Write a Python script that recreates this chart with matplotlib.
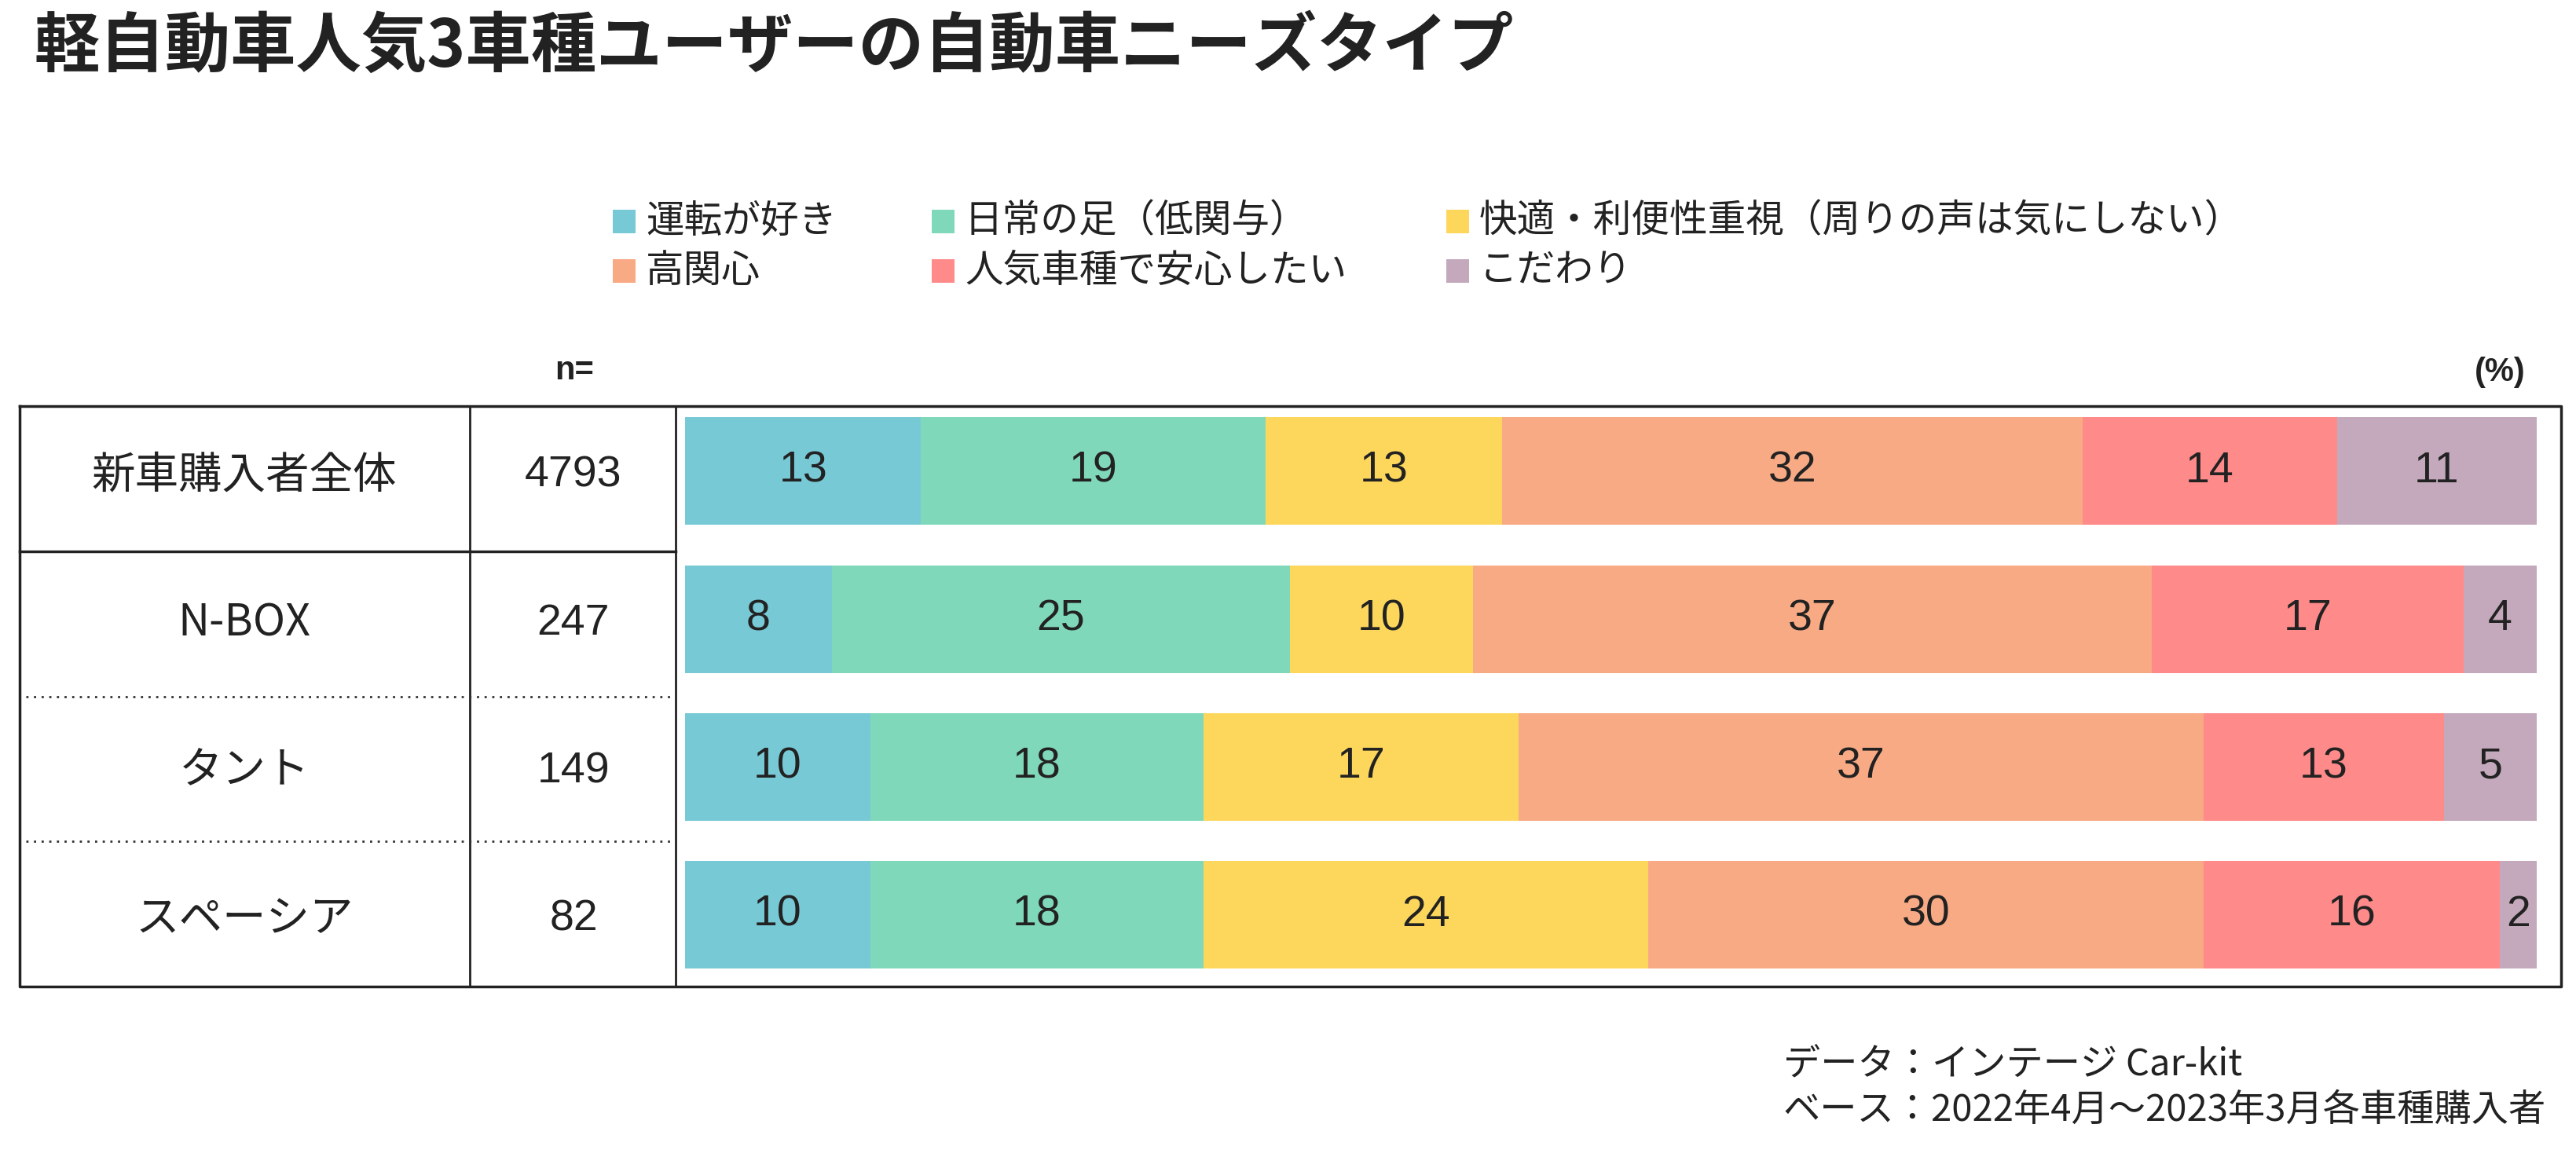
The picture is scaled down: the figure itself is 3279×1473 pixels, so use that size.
import numpy as np
import matplotlib
matplotlib.use("Agg")
import matplotlib.pyplot as plt
from matplotlib import transforms
from matplotlib.patches import Rectangle

plt.rcParams['font.family'] = ['Noto Sans CJK JP', 'DejaVu Sans']

# data
title = "軽自動車人気3車種ユーザーの自動車ニーズタイプ"
categories = ["新車購入者全体", "N-BOX", "タント", "スペーシア"]
n_values = [4793, 247, 149, 82]
drive = [13, 8, 10, 10]
daily = [19, 25, 18, 18]
comfort = [13, 10, 17, 24]
interest = [32, 37, 37, 30]
popular = [14, 17, 13, 16]
particular = [11, 4, 5, 2]
legend_names = ["運転が好き", "日常の足（低関与）", "快適・利便性重視（周りの声は気にしない）",
                "高関心", "人気車種で安心したい", "こだわり"]
colors = ["#78C9D6", "#80D8BA", "#FDD75C", "#F8AA84", "#FF8A8A", "#C4A9BC"]
source_lines = ["データ：インテージ Car-kit", "ベース：2022年4月～2023年3月各車種購入者"]

W, H = 3280, 1473
fig = plt.figure(figsize=(W / 100, H / 100), dpi=100)

# full-figure axes in pixel coords for the table / texts
ax0 = fig.add_axes([0, 0, 1, 1])
ax0.set_xlim(0, W)
ax0.set_ylim(H, 0)
ax0.axis('off')

# bar axes
bx0, bx1, by0, by1 = 872, 3229, 517, 1256
ax = fig.add_axes([bx0 / W, 1 - by1 / H, (bx1 - bx0) / W, (by1 - by0) / H])
ax.set_xlim(0, 1)
ax.set_ylim(3.486, -0.441)
ax.axis('off')

data = np.array([drive, daily, comfort, interest, popular, particular], dtype=float)
share = data / data.sum(axis=0)
y = np.arange(len(categories))
left = np.zeros(len(categories))
for k in range(data.shape[0]):
    ax.barh(y, share[k], left=left, height=0.728, color=colors[k], linewidth=0)
    for i in range(len(categories)):
        ax.text(left[i] + share[k][i] / 2, y[i], str(int(data[k][i])),
                ha='center', va='center', fontsize=40, color='#222222',
                family=['Liberation Sans', 'DejaVu Sans'])
    left += share[k]

# title
ax0.text(44, 60, title, fontsize=60, fontweight='bold', color='#222222',
         ha='left', va='center')

# legend (drawn by hand, 3 columns x 2 rows)
leg_x = [780, 1186, 1841]
leg_y = [282, 345]
for j, name in enumerate(legend_names):
    r, c = divmod(j, 3)
    ax0.add_patch(Rectangle((leg_x[c], leg_y[r] - 15), 29, 30,
                            color=colors[j], linewidth=0))
    ax0.text(leg_x[c] + 42, leg_y[r], name, fontsize=35, color='#222222',
             ha='left', va='center')

# header texts
ax0.text(731, 472, "n=", fontsize=30, fontweight='bold', ha='center', va='center',
         family=['Liberation Sans', 'DejaVu Sans'], color='#222222')
ax0.text(3182, 474, "(%)", fontsize=30, fontweight='bold', ha='center', va='center',
         family=['Liberation Sans', 'DejaVu Sans'], color='#222222')

# table frame
x_left, x_c1, x_c2, x_right = 25, 598, 860, 3260
y_top, y_bot = 517, 1256
ax0.plot([x_left, x_right, x_right, x_left, x_left],
         [y_top, y_top, y_bot, y_bot, y_top], color='#222222', lw=2.5)
ax0.plot([x_c1, x_c1], [y_top, y_bot], color='#222222', lw=2)
ax0.plot([x_c2, x_c2], [y_top, y_bot], color='#222222', lw=2)
ax0.plot([x_left, x_c2], [702, 702], color='#222222', lw=2.5)
for yy in [887, 1071]:
    ax0.plot([x_left + 8, x_c2 - 4], [yy, yy], color='#333333', lw=2,
             linestyle=(0, (1, 2.5)))

# row labels aligned with bars
tr = transforms.blended_transform_factory(ax0.transData, ax.transData)
for i, (cat, n) in enumerate(zip(categories, n_values)):
    ax0.text(311, y[i] + 0.03, cat, transform=tr, fontsize=40, color='#222222',
             ha='center', va='center')
    ax0.text(730, y[i] + 0.03, str(n), transform=tr, fontsize=40, color='#222222',
             ha='center', va='center', family=['Liberation Sans', 'DejaVu Sans'])

# source
for k, line in enumerate(source_lines):
    ax0.text(2270, 1356 + k * 58, line, fontsize=34, color='#222222',
             ha='left', va='center')

fig.savefig("out.png", dpi=100, facecolor='white')
